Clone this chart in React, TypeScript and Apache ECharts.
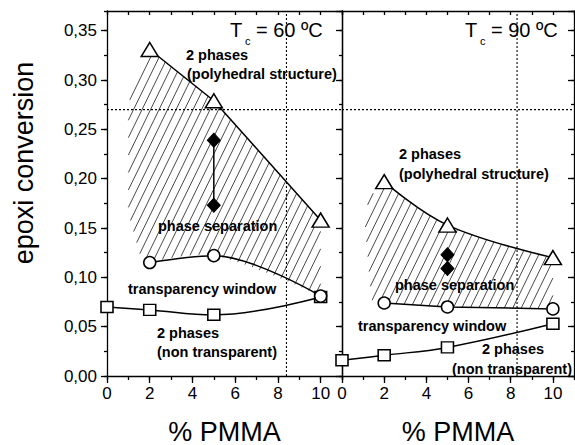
import React, { useEffect, useRef } from "react";
import * as echarts from "echarts";

const FONT = '"Liberation Sans", Arial, Helvetica, sans-serif';

// ---- Tc = 60 ºC ----
const tri60 = [[2, 0.331], [5, 0.279], [10, 0.158]];
const dia60 = [[5, 0.239], [5, 0.173]];
const circ60 = [[2, 0.115], [5, 0.122], [10, 0.081]];
const sq60 = [[0, 0.070], [2, 0.067], [5, 0.062], [10, 0.080]];
// corners of the hatched phase-separation zone left of the first points
const hatch60Top = [[1.0, 0.275], [1.5, 0.312]];
const hatch60Bottom = [[1.6, 0.119], [1.0, 0.165]];

// ---- Tc = 90 ºC ----
const tri90 = [[2, 0.197], [5, 0.153], [10, 0.12]];
const dia90 = [[5, 0.123], [5, 0.109]];
const circ90 = [[2, 0.074], [5, 0.070], [10, 0.068]];
const sq90 = [[0, 0.016], [2, 0.021], [5, 0.029], [10, 0.053]];
const hatch90Top = [[1.25, 0.18]];
const hatch90Bottom = [[1.4, 0.077], [1.1, 0.152]];

// reference lines
const dottedConversion = 0.27;
const dottedPmma60 = 8.4;
const dottedPmma90 = 8.3;

// axes
const xMax = 11;
const yMax = 0.37;
const xMajor = 2;
const xMinor = 1;
const yMajor = 0.05;
const yMinor = 0.025;

const G0 = { left: 107, top: 11, width: 235, height: 365 };
const G1 = { left: 342, top: 11, width: 232, height: 365 };

const BLACK = "#000";
const AXIS_LINE = { color: BLACK, width: 1.3 };

// Same bezier construction as the line series' smooth option (pixel space)
function smoothPath(pts: number[][], smooth: number): number[][] {
  if (!smooth || pts.length < 3) return pts.map((p) => p.slice());
  const out: number[][] = [pts[0].slice()];
  let cp0 = pts[0];
  for (let i = 1; i < pts.length; i++) {
    const prev = pts[i - 1];
    const p = pts[i];
    let cp1 = p;
    let nextCp0 = p;
    if (i < pts.length - 1) {
      const next = pts[i + 1];
      const vx = next[0] - prev[0];
      const vy = next[1] - prev[1];
      const d0 = Math.hypot(p[0] - prev[0], p[1] - prev[1]);
      const d1 = Math.hypot(next[0] - p[0], next[1] - p[1]);
      const r = d1 / (d0 + d1);
      cp1 = [p[0] - vx * smooth * (1 - r), p[1] - vy * smooth * (1 - r)];
      nextCp0 = [p[0] + vx * smooth * r, p[1] + vy * smooth * r];
    }
    for (let k = 1; k <= 24; k++) {
      const t = k / 24;
      const u = 1 - t;
      out.push([
        u * u * u * prev[0] + 3 * u * u * t * cp0[0] + 3 * u * t * t * cp1[0] + t * t * t * p[0],
        u * u * u * prev[1] + 3 * u * u * t * cp0[1] + 3 * u * t * t * cp1[1] + t * t * t * p[1],
      ]);
    }
    cp0 = nextCp0;
  }
  return out;
}

// Diagonal hatch lines clipped to a polygon
function hatch(poly: number[][], spacing: number, angleDeg: number) {
  const cot = 1 / Math.tan((angleDeg * Math.PI) / 180);
  const f = (p: number[]) => p[0] + p[1] * cot;
  let cmin = Infinity;
  let cmax = -Infinity;
  poly.forEach((p) => {
    const c = f(p);
    cmin = Math.min(cmin, c);
    cmax = Math.max(cmax, c);
  });
  const children: any[] = [];
  for (let c = Math.ceil(cmin / spacing) * spacing; c <= cmax; c += spacing) {
    const ys: number[] = [];
    for (let i = 0; i < poly.length; i++) {
      const a = poly[i];
      const b = poly[(i + 1) % poly.length];
      const fa = f(a) - c;
      const fb = f(b) - c;
      if (fa < 0 !== fb < 0) {
        const t = fa / (fa - fb);
        ys.push(a[1] + (b[1] - a[1]) * t);
      }
    }
    ys.sort((m, n) => m - n);
    for (let j = 0; j + 1 < ys.length; j += 2) {
      const y1 = ys[j];
      const y2 = ys[j + 1];
      children.push({
        type: "line",
        shape: { x1: c - y1 * cot, y1, x2: c - y2 * cot, y2 },
        style: { stroke: "#1a1a1a", lineWidth: 0.8 },
      });
    }
  }
  return children;
}

const HATCH_SPACING = 8.5;
const HATCH_ANGLE = 64;

function xAxesFor(gridIndex: number) {
  return [
    {
      type: "value",
      gridIndex,
      position: "bottom",
      min: 0,
      max: xMax,
      interval: xMajor,
      axisLine: { show: true, onZero: false, lineStyle: AXIS_LINE },
      axisTick: { show: true, inside: false, length: 7, lineStyle: AXIS_LINE },
      axisLabel: {
        show: true,
        margin: 9,
        fontSize: 17,
        color: BLACK,
        fontFamily: FONT,
        showMaxLabel: false,
        formatter: (v: number) => String(v),
      },
      splitLine: { show: false },
      name: "% PMMA",
      nameLocation: "middle",
      nameGap: 42,
      nameTextStyle: { fontSize: 27, color: BLACK, fontFamily: FONT },
    },
    {
      type: "value",
      gridIndex,
      position: "bottom",
      min: 0,
      max: xMax,
      interval: xMinor,
      axisLine: { show: false, onZero: false },
      axisTick: { show: true, inside: false, length: 4, lineStyle: AXIS_LINE },
      axisLabel: { show: false },
      splitLine: { show: false },
    },
    {
      type: "value",
      gridIndex,
      position: "top",
      min: 0,
      max: xMax,
      interval: xMinor,
      axisLine: { show: true, onZero: false, lineStyle: AXIS_LINE },
      axisTick: { show: true, inside: true, length: 4, lineStyle: AXIS_LINE },
      axisLabel: { show: false },
      splitLine: { show: false },
    },
  ];
}

function yAxis(gridIndex: number, position: string, interval: number, opts: any) {
  return {
    type: "value",
    gridIndex,
    position,
    min: 0,
    max: yMax,
    interval,
    axisLine: { show: !!opts.line, onZero: false, lineStyle: AXIS_LINE },
    axisTick: {
      show: opts.tick > 0,
      inside: !!opts.inside,
      length: opts.tick || 1,
      lineStyle: AXIS_LINE,
    },
    axisLabel: opts.labels
      ? {
          show: true,
          margin: 10,
          fontSize: 17,
          color: BLACK,
          fontFamily: FONT,
          showMaxLabel: false,
          formatter: (v: number) => v.toFixed(2).replace(".", ","),
        }
      : { show: false },
    splitLine: { show: false },
  };
}

function markerSeries(
  data: number[][],
  x: number,
  y: number,
  symbol: string,
  size: any,
  smooth: number | boolean,
  filled = false,
  withLine = true
) {
  return {
    type: "line",
    xAxisIndex: x,
    yAxisIndex: y,
    data,
    smooth,
    symbol,
    symbolSize: size,
    showSymbol: true,
    showAllSymbol: true,
    z: 3,
    silent: true,
    lineStyle: withLine ? { color: BLACK, width: 1.5 } : { width: 0, opacity: 0 },
    itemStyle: filled
      ? { color: BLACK, borderColor: BLACK, borderWidth: 1 }
      : { color: "#fff", borderColor: BLACK, borderWidth: 1.5 },
  };
}

function dotted(data: number[][], x: number, y: number) {
  return {
    type: "line",
    xAxisIndex: x,
    yAxisIndex: y,
    data,
    symbol: "none",
    z: 2,
    silent: true,
    lineStyle: { color: BLACK, width: 1.1, type: [2, 2] },
  };
}

const SM_CIRC60 = 0.35;
const SM_SQ = 0.4;
const SM_TRI90 = 0.4;

function label(text: string, x: number, y: number) {
  return {
    type: "text",
    x,
    y,
    z: 20,
    style: {
      text,
      fill: BLACK,
      font: `bold 14.5px ${FONT}`,
      textAlign: "left",
      textVerticalAlign: "middle",
    },
  };
}

function tcLabel(x: number, value: string) {
  return [
    {
      type: "text",
      x,
      y: 29.5,
      z: 20,
      style: { text: "T", fill: BLACK, font: `20px ${FONT}`, textAlign: "left", textVerticalAlign: "middle" },
    },
    {
      type: "text",
      x: x + 15,
      y: 40.5,
      z: 20,
      style: { text: "c", fill: BLACK, font: `11px ${FONT}`, textAlign: "left", textVerticalAlign: "middle" },
    },
    {
      type: "text",
      x: x + 26,
      y: 29.5,
      z: 20,
      style: { text: `= ${value} ºC`, fill: BLACK, font: `20px ${FONT}`, textAlign: "left", textVerticalAlign: "middle" },
    },
  ];
}

export default function App() {
  const ref = useRef<HTMLDivElement>(null);

  useEffect(() => {
    if (!ref.current) return;
    const chart = echarts.init(ref.current, undefined, { renderer: "svg" });

    const option: any = {
      animation: false,
      backgroundColor: "#fff",
      grid: [
        { ...G0, containLabel: false, outerBoundsMode: "none" },
        { ...G1, containLabel: false, outerBoundsMode: "none" },
      ],
      xAxis: [...xAxesFor(0), ...xAxesFor(1)],
      yAxis: [
        yAxis(0, "left", yMajor, { line: true, tick: 6, labels: true }),
        yAxis(0, "left", yMinor, { tick: 3 }),
        yAxis(0, "right", yMajor, { line: true, tick: 6, inside: true }),
        yAxis(0, "right", yMinor, { tick: 3, inside: true }),
        yAxis(1, "left", yMajor, { line: true, tick: 0 }),
        yAxis(1, "right", yMajor, { line: true, tick: 6, inside: true }),
        yAxis(1, "right", yMinor, { tick: 3, inside: true }),
      ],
      graphic: [
        {
          type: "text",
          x: 24,
          y: 163,
          rotation: Math.PI / 2,
          z: 20,
          style: {
            text: "epoxi conversion",
            fill: BLACK,
            font: `27px ${FONT}`,
            textAlign: "center",
            textVerticalAlign: "middle",
          },
        },
        ...tcLabel(230, "60"),
        ...tcLabel(465, "90"),
        label("2 phases", 186, 55),
        label("(polyhedral structure)", 187, 74),
        label("phase separation", 158, 226),
        label("transparency window", 128, 289),
        label("2 phases", 157, 332.5),
        label("(non transparent)", 157, 352),
        label("2 phases", 399, 154),
        label("(polyhedral structure)", 399, 174),
        label("phase separation", 395, 284.5),
        label("transparency window", 358, 326),
        label("2 phases", 482, 349),
        label("(non transparent)", 452, 368.5),
      ],
      series: [
        {
          type: "custom",
          xAxisIndex: 0,
          yAxisIndex: 0,
          data: [[0, 0]],
          z: 1,
          silent: true,
          clip: false,
          renderItem: (_p: any, api: any) => {
            const c = (p: number[]) => api.coord(p);
            const top = [...hatch60Top, ...tri60].map(c);
            const bottom = smoothPath(circ60.map(c), SM_CIRC60).reverse();
            const left = hatch60Bottom.map(c);
            return { type: "group", children: hatch([...top, ...bottom, ...left], HATCH_SPACING, HATCH_ANGLE) };
          },
        },
        {
          type: "custom",
          xAxisIndex: 3,
          yAxisIndex: 4,
          data: [[0, 0]],
          z: 1,
          silent: true,
          clip: false,
          renderItem: (_p: any, api: any) => {
            const c = (p: number[]) => api.coord(p);
            const top = [...hatch90Top.map(c), ...smoothPath(tri90.map(c), SM_TRI90)];
            const bottom = smoothPath(circ90.map(c), 0).reverse();
            const left = hatch90Bottom.map(c);
            return { type: "group", children: hatch([...top, ...bottom, ...left], HATCH_SPACING, HATCH_ANGLE) };
          },
        },
        dotted([[0, dottedConversion], [xMax, dottedConversion]], 0, 0),
        dotted([[dottedPmma60, 0], [dottedPmma60, yMax]], 0, 0),
        dotted([[0, dottedConversion], [xMax, dottedConversion]], 3, 4),
        dotted([[dottedPmma90, 0], [dottedPmma90, yMax]], 3, 4),

        markerSeries(sq60, 0, 0, "rect", [12, 11], SM_SQ),
        markerSeries(circ60, 0, 0, "circle", 12, SM_CIRC60),
        markerSeries(tri60, 0, 0, "triangle", [17, 14], false),
        markerSeries(dia60, 0, 0, "diamond", [13, 14], false, true),

        markerSeries(sq90, 3, 4, "rect", [12, 11], SM_SQ),
        markerSeries(circ90, 3, 4, "circle", 12, false),
        markerSeries(tri90, 3, 4, "triangle", [17, 14], SM_TRI90),
        markerSeries(dia90, 3, 4, "diamond", [13, 14], false, true, false),
      ],
    };

    chart.setOption(option);
    return () => chart.dispose();
  }, []);

  return (
    <div
      ref={ref}
      style={{ position: "absolute", left: 0, top: 0, width: 575, height: 445, background: "#fff" }}
    />
  );
}
